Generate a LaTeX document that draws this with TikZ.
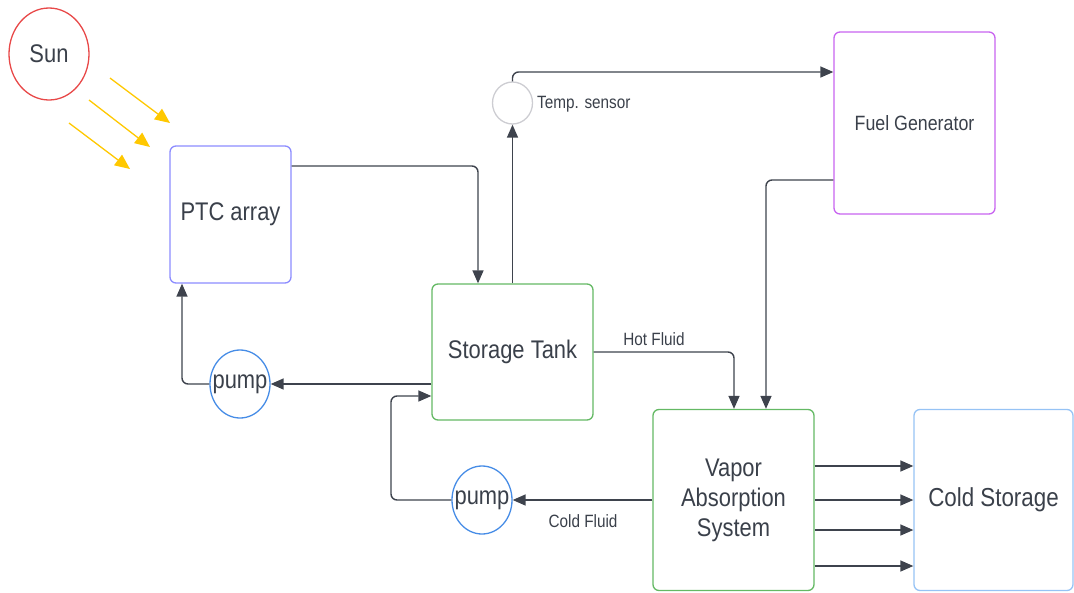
\documentclass[tikz,border=0pt]{standalone}
\usepackage{fontspec}
\setmainfont{Liberation Sans}[FakeStretch=0.86]
\usetikzlibrary{arrows.meta,shapes.geometric}
\definecolor{txt}{RGB}{58,64,74}
\definecolor{wire}{RGB}{62,67,77}
\definecolor{sunred}{RGB}{232,72,72}
\definecolor{ptcblue}{RGB}{140,140,255}
\definecolor{grn}{RGB}{100,185,100}
\definecolor{purp}{RGB}{200,100,240}
\definecolor{coldblue}{RGB}{150,195,245}
\definecolor{pumpblue}{RGB}{70,140,230}
\definecolor{sensgray}{RGB}{205,205,210}
\definecolor{ray}{RGB}{255,200,0}
\tikzset{
  big/.style={font=\fontsize{25.5}{30}\selectfont, text=txt},
  lbl/.style={font=\fontsize{17.8}{20}\selectfont, text=txt},
  box/.style={draw, rounded corners=6pt, line width=1.3pt, big, inner sep=0pt},
  oval/.style={ellipse, draw, line width=1.3pt, big, inner sep=0pt},
  conn/.style={draw=wire, line width=1.4pt, rounded corners=6pt, -{Triangle[length=13pt,width=11pt]}},
  sunray/.style={draw=ray, line width=1.3pt, -{Triangle[length=15pt,width=13pt]}}
}
\begin{document}
\begin{tikzpicture}[x=1pt,y=-1pt]
\useasboundingbox (0,0) rectangle (1074,592);
% nodes
\node[oval, draw=sunred, minimum width=80pt, minimum height=92pt] (sun) at (49,54) {Sun};
\node[box, draw=ptcblue, minimum width=121pt, minimum height=137pt] (ptc) at (230.5,214.5) {PTC array};
\node[box, draw=grn, minimum width=161pt, minimum height=136pt] (tank) at (512.5,352) {Storage Tank};
\node[oval, draw=sensgray, minimum width=40pt, minimum height=42pt] (sensor) at (512.5,103) {};
\node[lbl, anchor=west, inner sep=0pt] (senslbl) at (537,104) {Temp. sensor};
\node[box, draw=purp, minimum width=161pt, minimum height=182pt, font=\fontsize{20.7}{24}\selectfont] (fuel) at (914.5,123) {Fuel Generator};
\node[box, draw=grn, minimum width=161pt, minimum height=181pt, align=center] (vas) at (733.5,500) {\raisebox{2pt}{\parbox{150pt}{\centering Vapor\\Absorption\\System}}};
\node[box, draw=coldblue, minimum width=159pt, minimum height=181pt, font=\fontsize{26}{30}\selectfont] (cold) at (993.5,500) {Cold Storage};
\node[oval, draw=pumpblue, minimum width=60pt, minimum height=68pt] (pump1) at (240,384) {\makebox[0pt]{pump}};
\node[oval, draw=pumpblue, minimum width=60pt, minimum height=68pt] (pump2) at (482,500) {\makebox[0pt]{pump}};
\node[lbl, inner sep=0pt] (hot) at (654,339) {Hot Fluid};
\node[lbl, inner sep=0pt] (coldf) at (583,521) {Cold Fluid};
% sun rays
\coordinate (r1a) at (110,78);  \coordinate (r1b) at (170,123);
\coordinate (r2a) at (89,100);  \coordinate (r2b) at (150,147);
\coordinate (r3a) at (69,123);  \coordinate (r3b) at (130,169);
\draw[sunray] (r1a) -- (r1b);
\draw[sunray] (r2a) -- (r2b);
\draw[sunray] (r3a) -- (r3b);
% connectors
\draw[conn] (ptc.east |- 0,166) -| (tank.north -| 478,0);
\draw[conn] (tank.north) -- (sensor.south);
\draw[conn] (sensor.north) |- (fuel.west |- 0,72);
\draw[conn] (fuel.west |- 0,180) -| (vas.north -| 766,0);
\draw[conn] (tank.east |- 0,352) -| (vas.north -| 734,0);
\draw[conn] (tank.west |- pump1.east) -- (pump1.east);
\draw[conn] (pump1.west) -| (ptc.south -| 182,0);
\draw[conn] (vas.west |- pump2.east) -- (pump2.east);
\draw[conn] (pump2.west) -- (391,500) |- (tank.west |- 0,396);
\foreach \y in {466,500,530,566}
  \draw[conn] (vas.east |- 0,\y) -- (cold.west |- 0,\y);
\end{tikzpicture}
\end{document}
